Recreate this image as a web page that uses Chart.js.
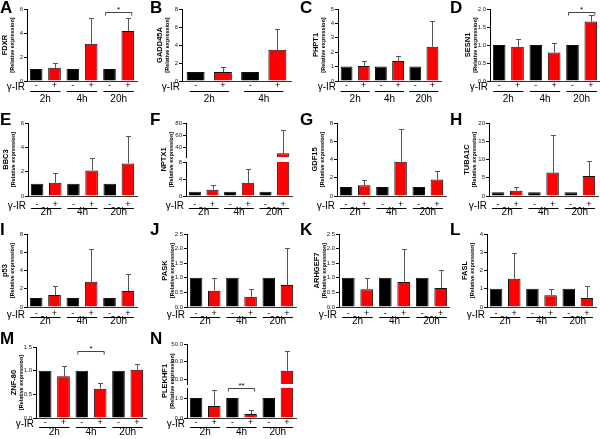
<!DOCTYPE html>
<html>
<head>
<meta charset="utf-8">
<script src="https://cdn.jsdelivr.net/npm/chart.js@4.4.0/dist/chart.umd.min.js"></script>
<style>
  html, body { margin: 0; padding: 0; background: #fff; }
  #fig { position: relative; width: 600px; height: 439px; overflow: hidden; }
  .panel { position: absolute; }
  .panel canvas { position: absolute; left: 0; top: 0; }
</style>
</head>
<body>
<div id="fig"></div>
<script>
// ===== Datos =====
const times = ['2h', '4h', '20h'];
const irSigns = ['-', '+'];

// barras: 2h -, 2h +, 4h -, 4h +, 20h -, 20h +  (media y SD hacia arriba)
const fdxrMean = [1, 1.1, 1, 3.1, 1, 4.17];
const fdxrSd   = [0, 0.37, 0, 2.15, 0, 1.1];
const gadd45aMean = [1, 1.0, 1, 3.48];
const gadd45aSd   = [0, 0.52, 0, 2.26];
const phpt1Mean = [1, 1.04, 1, 1.39, 1, 2.38];
const phpt1Sd   = [0, 0.37, 0, 0.35, 0, 1.81];
const sesn1Mean = [1, 0.95, 1, 0.79, 1, 1.65];
const sesn1Sd   = [0, 0.22, 0, 0.26, 0, 0.19];
const bbc3Mean = [1, 1.08, 1, 2.1, 1, 2.68];
const bbc3Sd   = [0, 0.85, 0, 1.05, 0, 2.26];
const nptx1Mean = [1, 1.5, 1, 3.1, 1, 31];
const nptx1Sd   = [0, 1.1, 0, 3.2, 0, 37];
const gdf15Mean = [1, 1.18, 1, 3.76, 1, 1.8];
const gdf15Sd   = [0, 0.55, 0, 3.62, 0, 0.93];
const tuba1cMean = [1, 1.47, 1, 6.45, 1, 5.5];
const tuba1cSd   = [0, 1.11, 0, 10.25, 0, 4.2];
const p53Mean = [1, 1.31, 1, 2.77, 1, 1.75];
const p53Sd   = [0, 0.99, 0, 3.62, 0, 1.85];
const paskMean = [1, 0.56, 1, 0.35, 1, 0.75];
const paskSd   = [0, 0.43, 0, 0.25, 0, 1.26];
const arhgef7Mean = [1, 0.61, 1, 0.86, 1, 0.65];
const arhgef7Sd   = [0, 0.38, 0, 1.13, 0, 0.61];
const faslMean = [1, 1.55, 1, 0.64, 1, 0.49];
const faslSd   = [0, 1.39, 0, 0.35, 0, 0.68];
const znf80Mean = [1, 0.88, 1, 0.62, 1, 1.02];
const znf80Sd   = [0, 0.22, 0, 0.13, 0, 0.13];
const plekhf1Mean = [1, 0.6, 1, 0.2, 1, 20];
const plekhf1Sd   = [0, 0.8, 0, 0.18, 0, 22];

// ticks del eje Y
const ticks6 = [0, 2, 4, 6];
const ticks8 = [0, 2, 4, 6, 8];
const ticks5 = [0, 1, 2, 3, 4, 5];
const ticks4 = [0, 1, 2, 3, 4];
const ticks2 = [0, 0.5, 1, 1.5, 2];
const ticks20 = [0, 5, 10, 15, 20];
const ticks25 = [0, 0.5, 1, 1.5, 2, 2.5];
const ticks15 = [0, 0.5, 1, 1.5];
const nptx1UpperTicks = [40, 60, 80];
const plekhf1UpperTicks = [10, 30, 50];

// ===== Layout de paneles =====
const FONT = '"Liberation Sans", Arial, sans-serif';
const rows = [
  { y: 0,   h: 110, sign: 5,   line: 9.7,  time: 18.5, letter: 13 },
  { y: 110, h: 110, sign: 8.3, line: 11.7, time: 16,   letter: 15 },
  { y: 220, h: 110, sign: 7,   line: 10.3, time: 14.3, letter: 15 },
  { y: 330, h: 109, sign: 5,   line: 9,    time: 14,   letter: 14 },
];

const panels = [
  { id: 'A', gene: 'FDXR',    mean: fdxrMean,    sd: fdxrSd,    ticks: ticks6,  col: 0, row: 0, left: 27, right: 137, top: 9,  zero: 81, sig: { from: 4, to: 5, y: 12, txt: '*' } },
  { id: 'B', gene: 'GADD45A', mean: gadd45aMean, sd: gadd45aSd, ticks: ticks8,  col: 1, row: 0, left: 32, right: 141, top: 9,  zero: 81 },
  { id: 'C', gene: 'PHPT1',   mean: phpt1Mean,   sd: phpt1Sd,   ticks: ticks5,  col: 2, row: 0, left: 38, right: 141, top: 9,  zero: 81 },
  { id: 'D', gene: 'SESN1',   mean: sesn1Mean,   sd: sesn1Sd,   ticks: ticks2,  col: 3, row: 0, left: 40, right: 150, top: 9,  zero: 81, dec: true, sig: { from: 4, to: 5, y: 12, txt: '*' } },
  { id: 'E', gene: 'BBC3',    mean: bbc3Mean,    sd: bbc3Sd,    ticks: ticks6,  col: 0, row: 1, left: 28, right: 137, top: 13, zero: 86 },
  { id: 'F', gene: 'NPTX1',   mean: nptx1Mean,   sd: nptx1Sd,   ticks: ticks8,  col: 1, row: 1, left: 36, right: 142, top: 52, zero: 86,
    upper: { ticks: nptx1UpperTicks, min: 25, max: 80, top: 13, bottom: 47 } },
  { id: 'G', gene: 'GDF15',   mean: gdf15Mean,   sd: gdf15Sd,   ticks: ticks8,  col: 2, row: 1, left: 37, right: 146, top: 13, zero: 86 },
  { id: 'H', gene: 'TUBA1C',  mean: tuba1cMean,  sd: tuba1cSd,  ticks: ticks20, col: 3, row: 1, left: 39, right: 148, top: 13, zero: 86 },
  { id: 'I', gene: 'p53',     mean: p53Mean,     sd: p53Sd,     ticks: ticks8,  col: 0, row: 2, left: 27, right: 137, top: 14, zero: 87 },
  { id: 'J', gene: 'PASK',    mean: paskMean,    sd: paskSd,    ticks: ticks25, col: 1, row: 2, left: 37, right: 146, top: 14, zero: 87, dec: true },
  { id: 'K', gene: 'ARHGEF7', mean: arhgef7Mean, sd: arhgef7Sd, ticks: ticks25, col: 2, row: 2, left: 39, right: 150, top: 14, zero: 87, dec: true },
  { id: 'L', gene: 'FASL',    mean: faslMean,    sd: faslSd,    ticks: ticks4,  col: 3, row: 2, left: 37, right: 146, top: 14, zero: 87 },
  { id: 'M', gene: 'ZNF-80',  mean: znf80Mean,   sd: znf80Sd,   ticks: ticks15, col: 0, row: 3, left: 36, right: 146, top: 17, zero: 88, dec: true, sig: { from: 2, to: 3, y: 21, txt: '*' } },
  { id: 'N', gene: 'PLEKHF1', mean: plekhf1Mean, sd: plekhf1Sd, ticks: ticks15, col: 1, row: 3, left: 37, right: 146, top: 58, zero: 88, dec: true,
    upper: { ticks: plekhf1UpperTicks, min: 5, max: 50, top: 14, bottom: 54 }, sig: { from: 2, to: 3, y: 58, txt: '**' } },
];

// ===== Plugins =====
const errorBars = {
  id: 'errorBars',
  afterDatasetsDraw(chart, args, opts) {
    const { ctx, scales: { y } } = chart;
    const meta = chart.getDatasetMeta(0);
    opts.mean.forEach((m, i) => {
      const s = opts.sd[i];
      if (!s || m > y.max || m < y.min) return;
      const x = Math.round(meta.data[i].x) + 0.5;
      const y0 = y.getPixelForValue(m);
      const y1 = Math.round(y.getPixelForValue(m + s)) + 0.5;
      ctx.save();
      ctx.strokeStyle = '#555';
      ctx.lineWidth = 1;
      ctx.beginPath();
      ctx.moveTo(x, y0); ctx.lineTo(x, y1);
      ctx.moveTo(x - 2.5, y1); ctx.lineTo(x + 2.5, y1);
      ctx.stroke();
      ctx.restore();
    });
  }
};

const deco = {
  id: 'deco',
  afterDraw(chart, args, p) {
    if (!p || !p.gene) return;
    const { ctx, scales: { x, y } } = chart;
    const r = rows[p.row];
    const base = y.getPixelForValue(0);
    ctx.save();
    ctx.fillStyle = '#000';
    ctx.strokeStyle = '#000';
    ctx.textAlign = 'center';
    ctx.textBaseline = 'middle';
    // signos -/+
    ctx.font = `9px ${FONT}`;
    p.mean.forEach((_, i) => ctx.fillText(irSigns[i % 2], x.getPixelForValue(i), base + r.sign));
    // subrayado y etiqueta de tiempo
    const nG = p.mean.length / 2;
    ctx.lineWidth = 1;
    ctx.font = `10px ${FONT}`;
    for (let g = 0; g < nG; g++) {
      const x0 = x.getPixelForValue(2 * g) - 6, x1 = x.getPixelForValue(2 * g + 1) + 6;
      const ly = Math.round(base + r.line) + 0.5;
      ctx.beginPath(); ctx.moveTo(x0, ly); ctx.lineTo(x1, ly); ctx.stroke();
      ctx.fillText(times[g], (x0 + x1) / 2, base + r.time);
    }
    // γ-IR
    ctx.textAlign = 'right';
    ctx.fillText('\u03B3-IR', p.left - 2, base + r.sign + 1.5);
    // letra del panel
    ctx.textAlign = 'left';
    ctx.textBaseline = 'alphabetic';
    ctx.font = `bold 17px ${FONT}`;
    ctx.fillText(p.id, 0, r.letter);
    // título eje Y (dos líneas)
    const topY = p.upper ? p.upper.top : p.top;
    const cy = (topY + p.zero) / 2;
    ctx.save();
    ctx.translate(p.left - 22, cy);
    ctx.rotate(-Math.PI / 2);
    ctx.textAlign = 'center';
    ctx.textBaseline = 'middle';
    ctx.font = `bold 7.5px ${FONT}`;
    ctx.fillText(p.gene, 0, 0);
    ctx.font = `bold 5.5px ${FONT}`;
    ctx.fillText('[Relative expression]', 0, 7);
    ctx.restore();
    // significancia
    if (p.sig) {
      const sx0 = x.getPixelForValue(p.sig.from), sx1 = x.getPixelForValue(p.sig.to);
      const sy = Math.round(p.sig.y) + 0.5;
      ctx.strokeStyle = '#444';
      ctx.beginPath();
      ctx.moveTo(sx0 - 4, sy + 3); ctx.lineTo(sx0 - 4, sy); ctx.lineTo(sx1 + 4, sy); ctx.lineTo(sx1 + 4, sy + 3);
      ctx.stroke();
      ctx.font = `8px ${FONT}`;
      ctx.textAlign = 'center';
      ctx.fillText(p.sig.txt, (sx0 + sx1) / 2, sy - 1);
    }
    ctx.restore();
  }
};

// ===== Construcción =====
const fig = document.getElementById('fig');

function mkPanelChart(wrap, p, part) {
  const r = rows[p.row];
  const W = 150, H = r.h;
  const c = document.createElement('canvas');
  c.width = W; c.height = H;
  c.style.width = W + 'px'; c.style.height = H + 'px';
  wrap.appendChild(c);
  const isUpper = part === 'upper';
  const tickVals = isUpper ? p.upper.ticks : p.ticks;
  const yMin = isUpper ? p.upper.min : 0;
  const yMax = isUpper ? p.upper.max : p.ticks[p.ticks.length - 1];
  const top = isUpper ? p.upper.top : p.top;
  const bottom = isUpper ? p.upper.bottom : p.zero;
  const nBars = p.mean.length;
  const barPct = nBars === 4 ? 0.66 : 0.69;

  return new Chart(c, {
    type: 'bar',
    data: {
      labels: p.mean.map((_, i) => times[i >> 1] + irSigns[i % 2]),
      datasets: [{
        data: p.mean,
        backgroundColor: p.mean.map((_, i) => i % 2 ? '#ff0000' : '#000000'),
        borderColor: '#111',
        borderWidth: 1,
        barPercentage: barPct,
        categoryPercentage: 1,
        clip: 0
      }]
    },
    options: {
      responsive: false,
      animation: false,
      devicePixelRatio: 1,
      events: [],
      layout: { padding: { left: 0, right: W - p.right, top: top, bottom: H - bottom } },
      plugins: {
        legend: { display: false },
        tooltip: { enabled: false },
        errorBars: { mean: p.mean, sd: p.sd },
        deco: isUpper ? {} : p
      },
      scales: {
        x: {
          display: true,
          grid: { display: false },
          ticks: { display: false },
          border: { display: !isUpper, color: '#333' },
          afterFit: s => { s.height = 0; }
        },
        y: {
          min: yMin, max: yMax,
          afterFit: s => { s.width = p.left; },
          afterBuildTicks: s => { s.ticks = tickVals.map(v => ({ value: v })); },
          ticks: {
            font: { size: 6, family: FONT },
            color: '#222',
            padding: 1,
            callback: v => p.dec ? v.toFixed(1) : String(v)
          },
          grid: { drawOnChartArea: false, tickLength: 3, color: '#000' },
          border: { color: '#000' }
        }
      }
    },
    plugins: [errorBars, deco]
  });
}

panels.forEach(p => {
  const r = rows[p.row];
  const wrap = document.createElement('div');
  wrap.className = 'panel';
  wrap.style.left = (p.col * 150) + 'px';
  wrap.style.top = r.y + 'px';
  wrap.style.width = '150px';
  wrap.style.height = r.h + 'px';
  fig.appendChild(wrap);
  if (p.upper) mkPanelChart(wrap, p, 'upper');
  mkPanelChart(wrap, p, 'lower');
});
</script>
</body>
</html>
